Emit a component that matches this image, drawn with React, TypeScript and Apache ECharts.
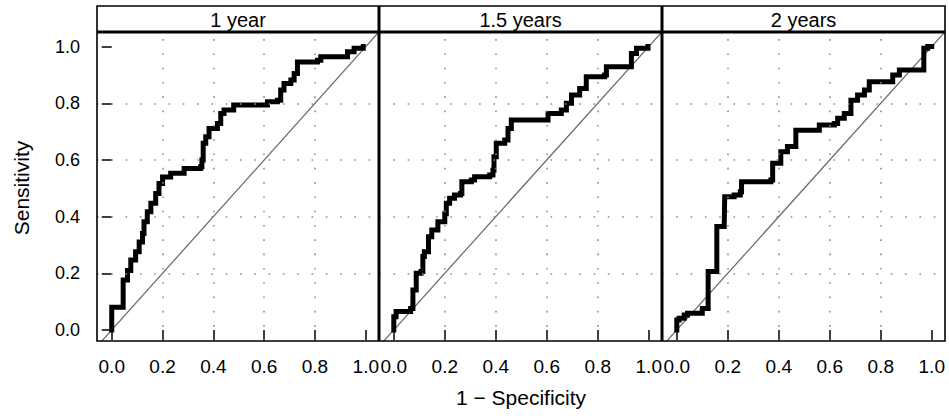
import React, { useEffect, useRef } from "react";
import * as echarts from "echarts";

const panelTitles = ["1 year", "1.5 years", "2 years"];
const tickValues = [0, 0.2, 0.4, 0.6, 0.8, 1.0];
const gridValues = [0.2, 0.4, 0.6, 0.8];

const fpr1 = [0, 0, 0.045, 0.045, 0.062, 0.075, 0.094, 0.108, 0.121, 0.127, 0.14, 0.154, 0.173, 0.186, 0.2, 0.232, 0.285, 0.35, 0.355, 0.36, 0.37, 0.383, 0.416, 0.429, 0.442, 0.48, 0.6, 0.613, 0.652, 0.665, 0.678, 0.705, 0.718, 0.731, 0.81, 0.823, 0.915, 0.928, 0.954, 0.99];
const tpr1 = [0, 0.08, 0.08, 0.176, 0.21, 0.247, 0.276, 0.31, 0.34, 0.382, 0.417, 0.447, 0.482, 0.517, 0.54, 0.553, 0.57, 0.576, 0.6, 0.659, 0.682, 0.711, 0.729, 0.764, 0.776, 0.794, 0.794, 0.805, 0.811, 0.847, 0.87, 0.882, 0.905, 0.946, 0.952, 0.964, 0.964, 0.982, 0.994, 1.0];

const fpr2 = [0, 0, 0.009, 0.055, 0.066, 0.075, 0.088, 0.107, 0.114, 0.12, 0.136, 0.149, 0.173, 0.2, 0.206, 0.219, 0.238, 0.262, 0.267, 0.304, 0.317, 0.376, 0.389, 0.393, 0.402, 0.435, 0.448, 0.461, 0.592, 0.605, 0.657, 0.677, 0.697, 0.729, 0.755, 0.827, 0.834, 0.925, 0.932, 0.952, 0.997];
const tpr2 = [0, 0.047, 0.065, 0.065, 0.076, 0.141, 0.2, 0.206, 0.259, 0.276, 0.329, 0.353, 0.382, 0.41, 0.447, 0.465, 0.476, 0.482, 0.523, 0.529, 0.541, 0.547, 0.564, 0.611, 0.659, 0.67, 0.711, 0.741, 0.741, 0.764, 0.776, 0.8, 0.829, 0.852, 0.894, 0.9, 0.929, 0.929, 0.976, 0.994, 1.0];

const fpr3 = [0, 0, 0.009, 0.029, 0.042, 0.094, 0.1, 0.12, 0.123, 0.153, 0.157, 0.186, 0.188, 0.225, 0.249, 0.254, 0.369, 0.376, 0.408, 0.434, 0.467, 0.552, 0.559, 0.618, 0.631, 0.657, 0.683, 0.709, 0.736, 0.755, 0.84, 0.847, 0.873, 0.965, 0.969, 0.984, 1.0];
const tpr3 = [0, 0.035, 0.041, 0.053, 0.059, 0.059, 0.076, 0.076, 0.206, 0.206, 0.365, 0.37, 0.47, 0.476, 0.488, 0.523, 0.529, 0.588, 0.629, 0.647, 0.705, 0.705, 0.723, 0.729, 0.747, 0.764, 0.811, 0.829, 0.847, 0.876, 0.876, 0.9, 0.917, 0.917, 0.994, 1.0, 1.0];

const curves = [
  { fpr: fpr1, tpr: tpr1 },
  { fpr: fpr2, tpr: tpr2 },
  { fpr: fpr3, tpr: tpr3 },
];

const FONT = "'Liberation Sans', Arial, sans-serif";

export default function App() {
  const ref = useRef<HTMLDivElement>(null);
  useEffect(() => {
    if (!ref.current) return;
    const chart = echarts.init(ref.current, null, { renderer: "svg" });

    const lefts = [97, 379, 662];
    const widths = [282, 283, 283];
    const top = 33;
    const height = 308;
    const frameTop = 6;
    const frameRight = 945;
    const bottom = top + height;

    const grids = lefts.map((l, i) => ({ left: l, top, width: widths[i], height }));
    const xAxes = lefts.map((_, i) => ({
      type: "value",
      gridIndex: i,
      min: -0.058,
      max: 1.052,
      axisLine: { show: false },
      splitLine: { show: false },
      axisTick: {
        show: true,
        customValues: tickValues,
        length: 10,
        lineStyle: { color: "#000", width: 1.5 },
      },
      axisLabel: {
        show: true,
        customValues: tickValues,
        formatter: (v: number) => v.toFixed(1),
        fontSize: 19,
        fontFamily: FONT,
        color: "#000",
        margin: 16,
        hideOverlap: false,
      },
    }));
    const yAxes = lefts.map((_, i) => ({
      type: "value",
      gridIndex: i,
      min: -0.039,
      max: 1.048,
      axisLine: { show: false },
      splitLine: { show: false },
      axisTick: {
        show: i === 0,
        customValues: tickValues,
        length: 10,
        lineStyle: { color: "#000", width: 1.5 },
      },
      axisLabel: {
        show: i === 0,
        customValues: tickValues,
        formatter: (v: number) => v.toFixed(1),
        fontSize: 18,
        fontFamily: FONT,
        color: "#000",
        margin: 17,
      },
    }));

    const series: any[] = [];
    curves.forEach((c, i) => {
      series.push({
        type: "line",
        xAxisIndex: i,
        yAxisIndex: i,
        data: [
          [-0.2, -0.2],
          [1.2, 1.2],
        ],
        showSymbol: false,
        clip: true,
        z: 2,
        lineStyle: { color: "#666", width: 1.2 },
        markLine: {
          silent: true,
          symbol: ["none", "none"],
          label: { show: false },
          lineStyle: { type: [1.6, 12.7], color: "#8c8c8c", width: 1.6 },
          data: [
            ...gridValues.map((v) => ({ xAxis: v })),
            ...gridValues.map((v) => ({ yAxis: v })),
          ],
        },
      });
      series.push({
        type: "line",
        xAxisIndex: i,
        yAxisIndex: i,
        data: c.fpr.map((x, k) => [x, c.tpr[k]]),
        step: "end",
        showSymbol: false,
        clip: true,
        z: 3,
        lineStyle: { color: "#000", width: 5, cap: "square", join: "miter" },
      });
    });

    const graphic: any[] = [];
    // outer frame
    graphic.push({
      type: "rect",
      shape: { x: lefts[0], y: frameTop, width: frameRight - lefts[0], height: bottom - frameTop },
      style: { fill: "none", stroke: "#000", lineWidth: 1.6 },
      z: 10,
    });
    // strip bottom
    graphic.push({
      type: "line",
      shape: { x1: lefts[0], y1: 32, x2: frameRight, y2: 32 },
      style: { stroke: "#000", lineWidth: 3 },
      z: 10,
    });
    // dividers
    [lefts[1], lefts[2]].forEach((x) => {
      graphic.push({
        type: "line",
        shape: { x1: x, y1: frameTop, x2: x, y2: bottom },
        style: { stroke: "#000", lineWidth: 3 },
        z: 10,
      });
    });
    // strip titles
    panelTitles.forEach((t, i) => {
      graphic.push({
        type: "text",
        x: lefts[i] + widths[i] / 2,
        y: 19.5,
        style: {
          text: t,
          fontSize: 20,
          fontFamily: FONT,
          fill: "#000",
          align: "center",
          verticalAlign: "middle",
        },
        z: 10,
      });
    });
    // axis titles
    graphic.push({
      type: "text",
      x: 521,
      y: 397,
      style: {
        text: "1 \u2212 Specificity",
        fontSize: 21,
        fontFamily: FONT,
        fill: "#000",
        align: "center",
        verticalAlign: "middle",
      },
    });
    graphic.push({
      type: "text",
      x: 21,
      y: 188,
      rotation: Math.PI / 2,
      style: {
        text: "Sensitivity",
        fontSize: 21,
        fontFamily: FONT,
        fill: "#000",
        align: "center",
        verticalAlign: "middle",
      },
    });

    chart.setOption({
      animation: false,
      backgroundColor: "#fff",
      grid: grids,
      xAxis: xAxes,
      yAxis: yAxes,
      series,
      graphic,
    });
    return () => chart.dispose();
  }, []);
  return (
    <div
      ref={ref}
      style={{ position: "fixed", left: 0, top: 0, width: 949, height: 416, background: "#fff" }}
    />
  );
}
